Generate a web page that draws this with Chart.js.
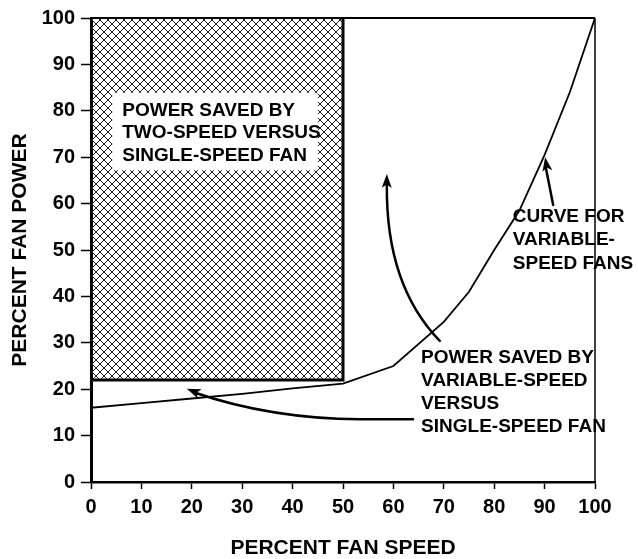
<!DOCTYPE html>
<html>
<head>
<meta charset="utf-8">
<script src="https://cdn.jsdelivr.net/npm/chart.js@4.4.1/dist/chart.umd.min.js"></script>
<style>
  html, body { margin: 0; padding: 0; background: #fff; }
</style>
</head>
<body>
<canvas id="fanChart" width="638" height="559"></canvas>
<script>
// ---------- data ----------
const fanSpeed = [0, 10, 20, 30, 40, 50, 60, 70, 75, 80, 85, 90, 95, 100];
const fanPower = [16, 17, 18, 19, 20.2, 21.2, 25, 34.5, 41, 50, 58.5, 70.5, 84, 100];

// two-speed fan region: bottom edge at 22 % power up to 50 % speed
const twoSpeedSpeed = [0, 50, 50];
const twoSpeedPower = [22, 22, 100];

const axisTicks = [0, 10, 20, 30, 40, 50, 60, 70, 80, 90, 100];

const boxLabel = ['POWER SAVED BY', 'TWO-SPEED VERSUS', 'SINGLE-SPEED FAN'];
const curveLabel = ['CURVE FOR', 'VARIABLE-', 'SPEED FANS'];
const variableLabel = ['POWER SAVED BY', 'VARIABLE-SPEED', 'VERSUS', 'SINGLE-SPEED FAN'];

const FONT = '"Liberation Sans", Arial, Helvetica, sans-serif';

// ---------- cross-hatch fill ----------
function makeHatch(ctx) {
  const size = 8;
  const c = document.createElement('canvas');
  c.width = size; c.height = size;
  const g = c.getContext('2d');
  g.strokeStyle = '#222';
  g.lineWidth = 1;
  g.beginPath();
  g.moveTo(-1, -1); g.lineTo(size + 1, size + 1);
  g.moveTo(-1, size + 1); g.lineTo(size + 1, -1);
  g.stroke();
  return ctx.createPattern(c, 'repeat');
}

function arrowHead(ctx, tipX, tipY, fromX, fromY, len, half) {
  const a = Math.atan2(tipY - fromY, tipX - fromX);
  ctx.save();
  ctx.translate(tipX, tipY);
  ctx.rotate(a);
  ctx.beginPath();
  ctx.moveTo(0, 0);
  ctx.lineTo(-len, -half);
  ctx.lineTo(-len * 0.75, 0);
  ctx.lineTo(-len, half);
  ctx.closePath();
  ctx.fill();
  ctx.restore();
}

// ---------- labels, arrows, frame ----------
const annotations = {
  id: 'annotations',
  afterDatasetsDraw(chart) {
    const { ctx, chartArea: area, scales: { x, y } } = chart;
    const px = (v) => x.getPixelForValue(v);
    const py = (v) => y.getPixelForValue(v);

    ctx.save();

    // white box inside the hatched area
    ctx.fillStyle = '#fff';
    ctx.fillRect(px(4.2), py(83.9), px(45) - px(4.2), py(67.2) - py(83.9));

    ctx.fillStyle = '#000';
    ctx.font = 'bold 19px ' + FONT;
    ctx.textBaseline = 'middle';
    ctx.textAlign = 'left';
    boxLabel.forEach((t, i) => ctx.fillText(t, px(6.2), py(80.1) + i * 22.5));
    curveLabel.forEach((t, i) => ctx.fillText(t, px(83.7), py(57.2) + i * 23.5));
    variableLabel.forEach((t, i) => ctx.fillText(t, px(65.5), py(26.8) + i * 23));

    // arrows
    ctx.strokeStyle = '#000';
    ctx.lineWidth = 2.5;
    ctx.lineCap = 'round';

    // to the variable-speed curve
    ctx.beginPath();
    ctx.moveTo(px(91.7), py(59.7));
    ctx.lineTo(px(90.2), py(68));
    ctx.stroke();
    arrowHead(ctx, px(90.1), py(70), px(91.7), py(59.7), 14, 5);

    // up into the open area
    ctx.beginPath();
    ctx.moveTo(px(69.2), py(30.4));
    ctx.quadraticCurveTo(px(58.5), py(42.4), px(58.7), py(64));
    ctx.stroke();
    arrowHead(ctx, px(58.7), py(66.4), px(58.6), py(50), 14, 5);

    // back along the bottom
    ctx.beginPath();
    ctx.moveTo(px(63.9), py(13.5));
    ctx.lineTo(px(53.4), py(13.5));
    ctx.quadraticCurveTo(px(35.5), py(13.7), px(20.5), py(19.3));
    ctx.stroke();
    arrowHead(ctx, px(19), py(20.1), px(25), py(17.5), 14, 5);

    // top and right frame lines
    ctx.lineCap = 'butt';
    ctx.beginPath();
    ctx.lineWidth = 2;
    ctx.moveTo(area.left, area.top);
    ctx.lineTo(area.right, area.top);
    ctx.stroke();
    ctx.beginPath();
    ctx.lineWidth = 1.5;
    ctx.moveTo(area.right, area.top);
    ctx.lineTo(area.right, area.bottom);
    ctx.stroke();

    ctx.restore();
  }
};

const canvas = document.getElementById('fanChart');
const hatch = makeHatch(canvas.getContext('2d'));

const tickFont = { family: FONT, size: 20, weight: 'bold' };
const titleFont = { family: FONT, size: 21, weight: 'bold', lineHeight: 1 };

new Chart(canvas, {
  type: 'line',
  data: {
    datasets: [
      {
        label: 'Variable-speed fan',
        data: fanSpeed.map((s, i) => ({ x: s, y: fanPower[i] })),
        borderColor: '#000',
        borderWidth: 1.8,
        pointRadius: 0,
        tension: 0,
        fill: false,
        order: 1
      },
      {
        label: 'Two-speed saving',
        data: twoSpeedSpeed.map((s, i) => ({ x: s, y: twoSpeedPower[i] })),
        borderColor: '#000',
        borderWidth: 3,
        backgroundColor: hatch,
        pointRadius: 0,
        tension: 0,
        fill: 'end',
        order: 2
      }
    ]
  },
  options: {
    responsive: false,
    animation: false,
    layout: { padding: { top: 15, right: 43, left: 0, bottom: 0 } },
    plugins: {
      legend: { display: false },
      tooltip: { enabled: false }
    },
    scales: {
      x: {
        type: 'linear',
        min: 0,
        max: 100,
        afterBuildTicks: (s) => { s.ticks = axisTicks.map((v) => ({ value: v })); },
        afterFit: (s) => { s.height = 77; },
        border: { display: true, color: '#000', width: 2.5 },
        grid: { drawOnChartArea: false, drawTicks: true, tickLength: 7, tickWidth: 1.5, tickColor: '#000' },
        ticks: { color: '#000', font: tickFont, padding: 6, maxRotation: 0 },
        title: { display: true, text: 'PERCENT FAN SPEED', color: '#000', font: titleFont, padding: { top: 0, bottom: 0.5 } }
      },
      y: {
        type: 'linear',
        min: 0,
        max: 100,
        afterBuildTicks: (s) => { s.ticks = axisTicks.map((v) => ({ value: v })); },
        afterFit: (s) => { s.width = 91; },
        border: { display: true, color: '#000', width: 3 },
        grid: { drawOnChartArea: false, drawTicks: true, tickLength: 10, tickWidth: 1.5, tickColor: '#000' },
        ticks: { color: '#000', font: tickFont, padding: 6 },
        title: { display: true, text: 'PERCENT FAN POWER', color: '#000', font: { family: FONT, size: 21, weight: 'bold' }, padding: { top: 8, bottom: 0 } }
      }
    }
  },
  plugins: [annotations]
});
</script>
</body>
</html>
